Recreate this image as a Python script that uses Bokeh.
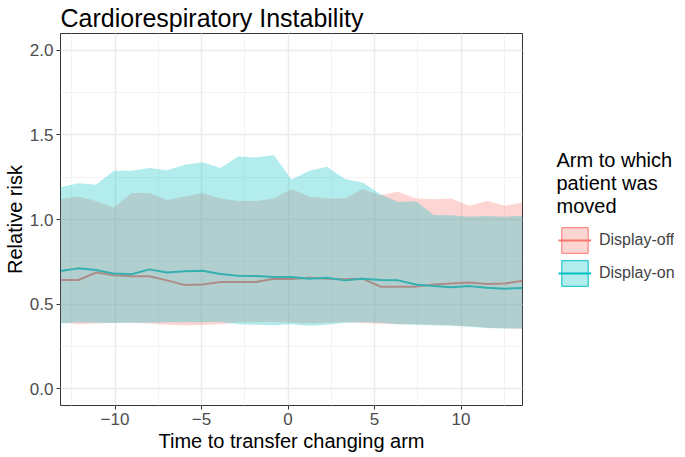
from bokeh.plotting import figure
from bokeh.layouts import row
from bokeh.models import (Range1d, SingleIntervalTicker, PrintfTickFormatter,
                          Legend, LegendItem, Label)
from bokeh.embed import file_html
from bokeh.resources import INLINE

# ---- data ----
time = [-13.15, -12.12, -11.10, -10.07, -9.04, -8.02, -6.99, -5.96, -4.93, -3.91,
        -2.88, -1.85, -0.83, 0.20, 1.23, 2.25, 3.28, 4.31, 5.34, 6.36,
        7.39, 8.42, 9.44, 10.47, 11.50, 12.53, 13.55]

off_mid = [0.642, 0.642, 0.686, 0.670, 0.664, 0.664, 0.640, 0.612, 0.615, 0.630,
           0.630, 0.630, 0.650, 0.648, 0.656, 0.650, 0.646, 0.650, 0.603, 0.603,
           0.603, 0.615, 0.622, 0.628, 0.618, 0.622, 0.638]
off_lo = [0.392, 0.380, 0.385, 0.389, 0.389, 0.385, 0.378, 0.374, 0.376, 0.380,
          0.392, 0.392, 0.394, 0.390, 0.385, 0.390, 0.392, 0.388, 0.383, 0.380,
          0.380, 0.378, 0.375, 0.368, 0.360, 0.357, 0.352]
off_hi = [1.120, 1.136, 1.110, 1.071, 1.156, 1.156, 1.116, 1.136, 1.156, 1.124,
          1.110, 1.110, 1.124, 1.180, 1.136, 1.124, 1.124, 1.180, 1.144, 1.164,
          1.124, 1.120, 1.124, 1.081, 1.110, 1.081, 1.101]

on_mid = [0.695, 0.711, 0.701, 0.680, 0.676, 0.705, 0.686, 0.694, 0.697, 0.678,
          0.668, 0.666, 0.660, 0.660, 0.650, 0.656, 0.640, 0.650, 0.642, 0.640,
          0.616, 0.606, 0.599, 0.606, 0.597, 0.591, 0.595]
on_lo = [0.385, 0.392, 0.390, 0.388, 0.389, 0.390, 0.392, 0.392, 0.392, 0.394,
         0.380, 0.378, 0.374, 0.380, 0.372, 0.378, 0.390, 0.392, 0.390, 0.380,
         0.378, 0.374, 0.372, 0.365, 0.358, 0.355, 0.355]
on_hi = [1.190, 1.215, 1.205, 1.288, 1.288, 1.304, 1.292, 1.324, 1.338, 1.304,
         1.373, 1.367, 1.381, 1.237, 1.288, 1.312, 1.239, 1.219, 1.150, 1.104,
         1.108, 1.026, 1.025, 1.017, 1.020, 1.016, 1.023]

series_labels = ["Display-off", "Display-on"]
legend_title = ["Arm to which", "patient was", "moved"]
RED = "#F8766D"
TEAL = "#00BFC4"
FONT = "Liberation Sans"
FH = 372

p = figure(frame_width=462, frame_height=FH, output_backend="svg", toolbar_location=None,
           x_range=Range1d(-13.15, 13.55), y_range=Range1d(-0.1, 2.1),
           min_border_left=52, min_border_right=2, min_border_top=33,
           min_border_bottom=44, title="Cardiorespiratory Instability",
           x_axis_label="Time to transfer changing arm", y_axis_label="Relative risk")

p.title.text_font = FONT
p.title.text_font_size = "25px"
p.title.text_font_style = "normal"
p.title.text_color = "black"
p.title.standoff = 0
p.title.align = "left"
p.title.vertical_align = "top"

p.outline_line_color = "#333333"
p.outline_line_width = 1
p.background_fill_color = "white"
p.border_fill_color = "white"

p.xaxis.ticker = SingleIntervalTicker(interval=5, num_minor_ticks=2)
p.yaxis.ticker = SingleIntervalTicker(interval=0.5, num_minor_ticks=2)
p.yaxis.formatter = PrintfTickFormatter(format="%.1f")
for ax in (p.xaxis, p.yaxis):
    ax.axis_line_color = None
    ax.major_tick_line_color = "#333333"
    ax.major_tick_out = 4
    ax.major_tick_in = 0
    ax.minor_tick_line_color = None
    ax.major_label_text_color = "#4D4D4D"
    ax.major_label_text_font = FONT
    ax.major_label_text_font_size = "17px"
    ax.major_label_standoff = 3
    ax.axis_label_text_font = FONT
    ax.axis_label_text_font_size = "20px"
    ax.axis_label_text_font_style = "normal"
    ax.axis_label_text_color = "black"
    ax.axis_label_standoff = 1
p.xaxis.axis_label_standoff = 2

for g in (p.xgrid, p.ygrid):
    g.grid_line_color = "#EBEBEB"
    g.grid_line_width = 1.5
    g.minor_grid_line_color = "#F2F2F2"
    g.minor_grid_line_width = 1

# lines first, ribbons drawn over them
p.line(time, off_mid, line_color=RED, line_width=2)
p.line(time, on_mid, line_color=TEAL, line_width=2)
p.varea(x=time, y1=off_lo, y2=off_hi, fill_color=RED, fill_alpha=0.3)
p.varea(x=time, y1=on_lo, y2=on_hi, fill_color=TEAL, fill_alpha=0.3)

# ---- legend panel: pixel-unit space, y measured down from the frame top ----
QW = 150
q = figure(width=QW, height=453, output_backend="svg", toolbar_location=None,
           x_range=Range1d(0, QW), y_range=Range1d(FH, 0),
           min_border_left=0, min_border_right=0, min_border_top=0, min_border_bottom=0)
q.axis.visible = False
q.grid.visible = False
q.outline_line_color = None
q.background_fill_color = "white"
q.border_fill_color = "white"

items = []
for lab, col in zip(series_labels, [RED, TEAL]):
    # single off-screen point so that the legend glyph is drawn
    band = q.varea(x=[-60, -50], y1=[0, 0], y2=[1, 1], fill_color=col, fill_alpha=0.3)
    box = q.rect(x=[-60], y=[0], width=[1], height=[1], fill_alpha=0,
                 line_color=col, line_width=1)
    ln = q.line(x=[-60, -50], y=[0, 0], line_color=col, line_width=2)
    items.append(LegendItem(label=lab, renderers=[band, box, ln]))

legend = Legend(items=items, location=(34, 115), glyph_width=33, glyph_height=32,
                spacing=1, padding=0, margin=0, label_standoff=8, label_text_font=FONT,
                label_text_font_size="16px", label_height=32,
                border_line_alpha=0, background_fill_alpha=0)
q.add_layout(legend, "center")

for txt, yy in zip(legend_title, [126.7, 149.7, 172.7]):
    q.add_layout(Label(x=32, y=yy, text=txt, text_font=FONT, text_font_size="20px",
                       text_baseline="middle", text_align="left", text_color="black"))

layout = row(p, q)
open("out.html", "w").write(file_html(layout, INLINE))
